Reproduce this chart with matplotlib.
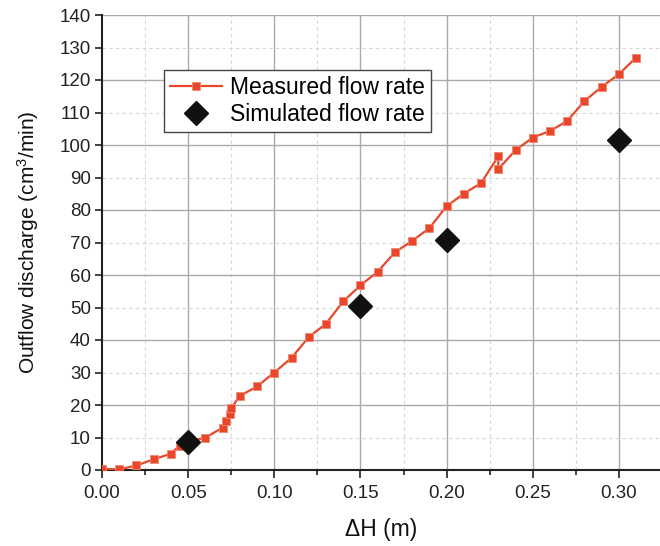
import matplotlib
matplotlib.use("Agg")
import matplotlib.pyplot as plt
import numpy as np
from matplotlib.ticker import MultipleLocator

plt.rcParams['font.family'] = ['Liberation Sans', 'DejaVu Sans']
plt.rcParams['mathtext.default'] = 'regular'

measured_dh = [0.0, 0.01, 0.02, 0.03, 0.04, 0.045, 0.05, 0.06, 0.07, 0.072, 0.0745, 0.075,
               0.08, 0.09, 0.10, 0.11, 0.12, 0.13, 0.14, 0.15, 0.16, 0.17, 0.18, 0.19,
               0.20, 0.21, 0.22, 0.23, 0.23, 0.24, 0.25, 0.26, 0.27, 0.28, 0.29, 0.30, 0.31]
measured_q = [0.3, 0.2, 1.4, 3.3, 5.0, 7.5, 8.6, 10.0, 13.0, 15.0, 17.2, 19.0,
              22.8, 25.7, 30.0, 34.5, 40.9, 45.0, 51.9, 56.8, 61.0, 67.0, 70.5, 74.4,
              81.2, 85.0, 88.3, 96.5, 92.6, 98.4, 102.3, 104.3, 107.4, 113.5, 117.9, 121.8, 126.9]

sim_dh = [0.05, 0.15, 0.20, 0.30]
sim_q = [8.5, 50.6, 70.9, 101.5]

x_ticks = [0.00, 0.05, 0.10, 0.15, 0.20, 0.25, 0.30]
y_ticks = list(range(0, 141, 10))

W, H = 660, 546
fig = plt.figure(figsize=(W / 100, H / 100), dpi=100)
left, right, top, bottom = 102, 660, 15, 470
ax = fig.add_axes([left / W, 1 - bottom / H, (right - left) / W, (bottom - top) / H])

red = '#E8472C'
ax.plot(measured_dh, measured_q, '-', color=red, lw=1.6, marker='s', ms=6.2,
        mfc=red, mec='#F08870', mew=0.6, label='Measured flow rate', zorder=3)
ax.plot(sim_dh, sim_q, 'D', color='#111111', ms=12, mec='#111111', ls='none',
        label='Simulated flow rate', zorder=4)

ax.set_xlim(0, (right - left) / 1723)
ax.set_ylim(0, 140)

ax.set_xticks(x_ticks)
ax.set_xticklabels([f'{v:.2f}' for v in x_ticks])
ax.xaxis.set_minor_locator(MultipleLocator(0.025))
ax.set_yticks(y_ticks)
ax.set_yticklabels([str(v) for v in y_ticks])

# grid: solid at major, dashed at intermediate
for xv in np.arange(0.05, 0.33, 0.05):
    ax.axvline(xv, color='#AAAAAA', lw=1.0, zorder=0)
for xv in np.arange(0.025, 0.33, 0.05):
    ax.axvline(xv, color='#D5D5D5', lw=0.8, ls=(0, (3, 3)), zorder=0)
for yv in range(20, 141, 20):
    ax.axhline(yv, color='#AAAAAA', lw=1.0, zorder=0)
for yv in range(10, 140, 20):
    ax.axhline(yv, color='#D5D5D5', lw=0.8, ls=(0, (3, 3)), zorder=0)

for s in ['top', 'right']:
    ax.spines[s].set_visible(False)
for s in ['left', 'bottom']:
    ax.spines[s].set_linewidth(1.5)
    ax.spines[s].set_color('#222222')

ax.tick_params(axis='both', which='major', direction='out', length=5, width=1.2,
               labelsize=13.5, colors='#222222', pad=3)
ax.tick_params(axis='x', which='minor', direction='out', length=3.5, width=1.2, colors='#222222')
ax.tick_params(axis='x', which='major', length=6, pad=5)

ax.set_xlabel('ΔH (m)', fontsize=16.5, labelpad=11, color='#111111')
ax.set_ylabel('Outflow discharge (cm$^3$/min)', fontsize=15, labelpad=13, color='#111111')

leg = ax.legend(loc='upper left', bbox_to_anchor=(164 / W, 1 - 70 / H),
                bbox_transform=fig.transFigure, borderaxespad=0, fontsize=16.5,
                handlelength=2.3, handletextpad=0.35, labelspacing=0.2,
                borderpad=0.25, fancybox=False, framealpha=1, edgecolor='#444444')
leg.get_frame().set_linewidth(1.0)

fig.savefig('out.png', dpi=100)
